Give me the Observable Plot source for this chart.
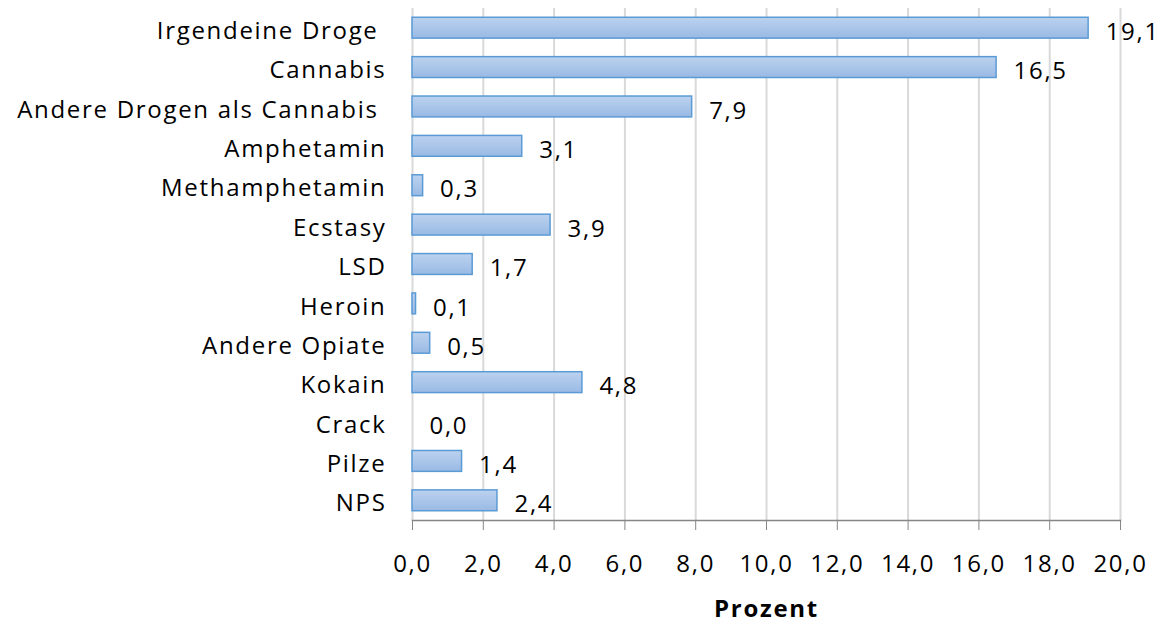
<!DOCTYPE html>
<html><head><meta charset="utf-8">
<script src="https://cdn.jsdelivr.net/npm/d3@7"></script>
<script src="https://cdn.jsdelivr.net/npm/@observablehq/plot@0.6"></script>
<style>
body{margin:0;background:#fff;}
svg{font-family:"Open Sans",sans-serif;}
svg text{letter-spacing:1.7px;}
</style>
</head><body>
<div id="chart"></div>
<script>
const categories = ["Irgendeine Droge ","Cannabis","Andere Drogen als Cannabis ","Amphetamin","Methamphetamin","Ecstasy","LSD","Heroin","Andere Opiate","Kokain","Crack","Pilze","NPS"];
const values = [19.1,16.5,7.9,3.1,0.3,3.9,1.7,0.1,0.5,4.8,0.0,1.4,2.4];
const xTicks = [0,2,4,6,8,10,12,14,16,18,20];
const axisTitle = "Prozent";

const data = categories.map((c,i)=>({cat:c, val:values[i]}));
const fmt = d => d.toFixed(1).replace(".", ",");

const chart = Plot.plot({
  width:1169, height:625,
  marginLeft:412, marginRight:49, marginTop:8, marginBottom:105,
  style:{fontSize:"24px", color:"#000", background:"#fff"},
  x:{domain:[0,20], ticks:xTicks},
  y:{domain:categories, paddingInner:0.47, paddingOuter:0.235, round:false},
  marks:[
    Plot.gridX(xTicks,{stroke:"#d9d9d9", strokeOpacity:1, strokeWidth:2}),
    Plot.barX(data,{y:"cat", x:"val", fill:"url(#barGrad)", stroke:"#5b9bd5", strokeWidth:1.5}),
    Plot.text(data,{y:"cat", x:"val", text:d=>fmt(d.val), textAnchor:"start", dx:17, dy:4, fill:"#000", fontSize:24}),
    Plot.frame({anchor:"bottom", stroke:"#868686", strokeWidth:1.5}),
    Plot.axisX(xTicks,{tickSize:10, tickPadding:24, tickFormat:fmt, stroke:"#868686", fill:"#000", label:axisTitle, labelAnchor:"center", labelArrow:"none", labelOffset:96, fontSize:24}),
    Plot.axisY({tickSize:0, tickPadding:26, dy:3, label:null, fontSize:24, fill:"#000"})
  ]
});
const svg = d3.select(chart);
const defs = svg.insert("defs",":first-child");
const g = defs.append("linearGradient").attr("id","barGrad").attr("x1",0).attr("y1",0).attr("x2",0).attr("y2",1);
g.append("stop").attr("offset","0%").attr("stop-color","#bcd2ef");
g.append("stop").attr("offset","100%").attr("stop-color","#99bae4");
svg.selectAll('[aria-label="x-axis label"] text').style("font-weight","bold").style("font-size","24px");
document.getElementById("chart").appendChild(chart);
</script>
</body></html>
